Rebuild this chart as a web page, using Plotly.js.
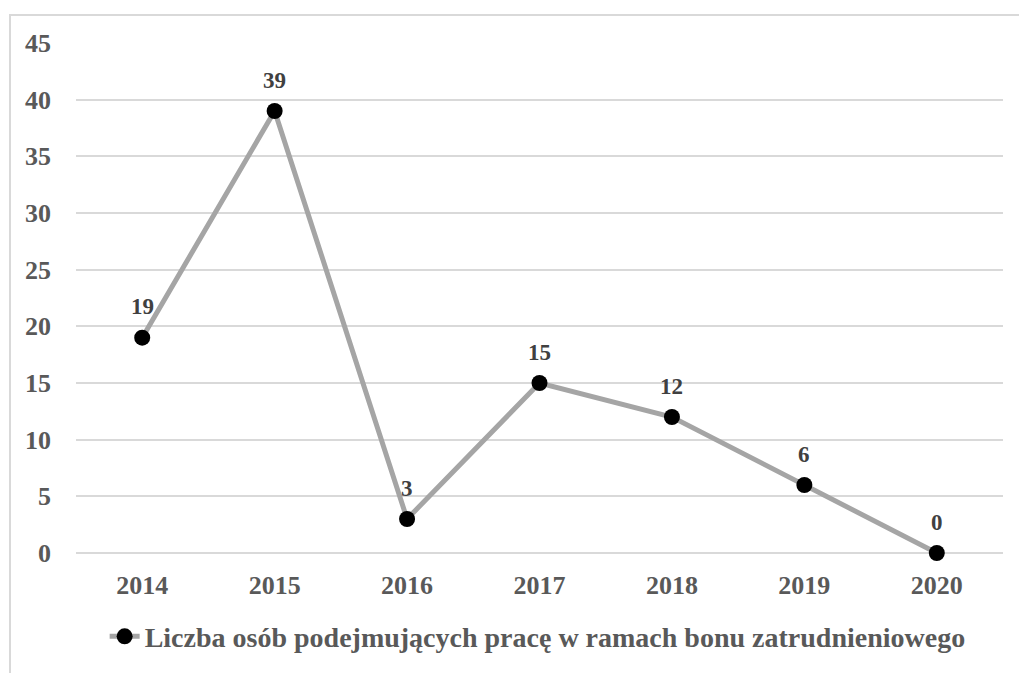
<!DOCTYPE html>
<html>
<head>
<meta charset="utf-8">
<script src="https://cdn.plot.ly/plotly-3.0.1.min.js"></script>
<style>
html,body{margin:0;padding:0;background:#fff;}
#wrap{position:relative;width:1019px;height:673px;overflow:hidden;}
#chart{position:absolute;left:0;top:0;width:1019px;height:673px;}
#frame{position:absolute;left:9px;top:14px;width:1100px;height:800px;border:2px solid #d9d9d9;box-sizing:border-box;pointer-events:none;}
</style>
</head>
<body>
<div id="wrap"><div id="frame"></div><div id="chart"></div></div>
<script>
const years = ['2014','2015','2016','2017','2018','2019','2020'];
const values = [19, 39, 3, 15, 12, 6, 0];
const seriesName = 'Liczba osób podejmujących pracę w ramach bonu zatrudnieniowego';
const yTicks = [0,5,10,15,20,25,30,35,40,45];

const font = 'Liberation Serif, Times New Roman, serif';

const trace = {
  x: years, y: values, name: '<b>' + seriesName + '</b>',
  type: 'scatter', mode: 'lines+markers',
  line: {color: '#a5a5a5', width: 5},
  marker: {color: '#000000', size: 16},
  cliponaxis: false
};

const annotations = years.map((yr, i) => ({
  x: i, y: values[i], xref: 'x', yref: 'y',
  text: '<b>' + values[i] + '</b>', showarrow: false,
  yshift: 31, font: {family: font, size: 23, color: '#404040'}
}));

const layout = {
  width: 1019, height: 673,
  margin: {l: 76, r: 16, t: 43, b: 120, autoexpand: false},
  paper_bgcolor: 'rgba(0,0,0,0)', plot_bgcolor: 'rgba(0,0,0,0)',
  showlegend: true,
  legend: {orientation: 'h', x: 0.498, xanchor: 'center', xref: 'paper',
    y: 0.054, yref: 'container', yanchor: 'middle',
    font: {family: font, size: 28, color: '#595959'}},
  xaxis: {type: 'category', range: [-0.5, 6.5], showgrid: false, zeroline: false,
    showline: false, ticks: '',
    tickvals: years, ticktext: years.map(y => '<b>' + y + '</b>'),
    tickfont: {family: font, size: 26, color: '#595959'},
    ticklabelstandoff: 14},
  yaxis: {range: [0, 45], tickvals: yTicks, ticktext: yTicks.map(v => '<b>' + v + '</b>'),
    showgrid: true, gridcolor: '#d9d9d9', gridwidth: 2, zeroline: true, zerolinecolor: '#d9d9d9', zerolinewidth: 2,
    showline: false, ticks: '', ticklabelstandoff: 24,
    tickfont: {family: font, size: 26, color: '#595959'}},
  annotations: annotations
};

Plotly.newPlot('chart', [trace], layout, {displayModeBar: false, staticPlot: true});
</script>
</body>
</html>
